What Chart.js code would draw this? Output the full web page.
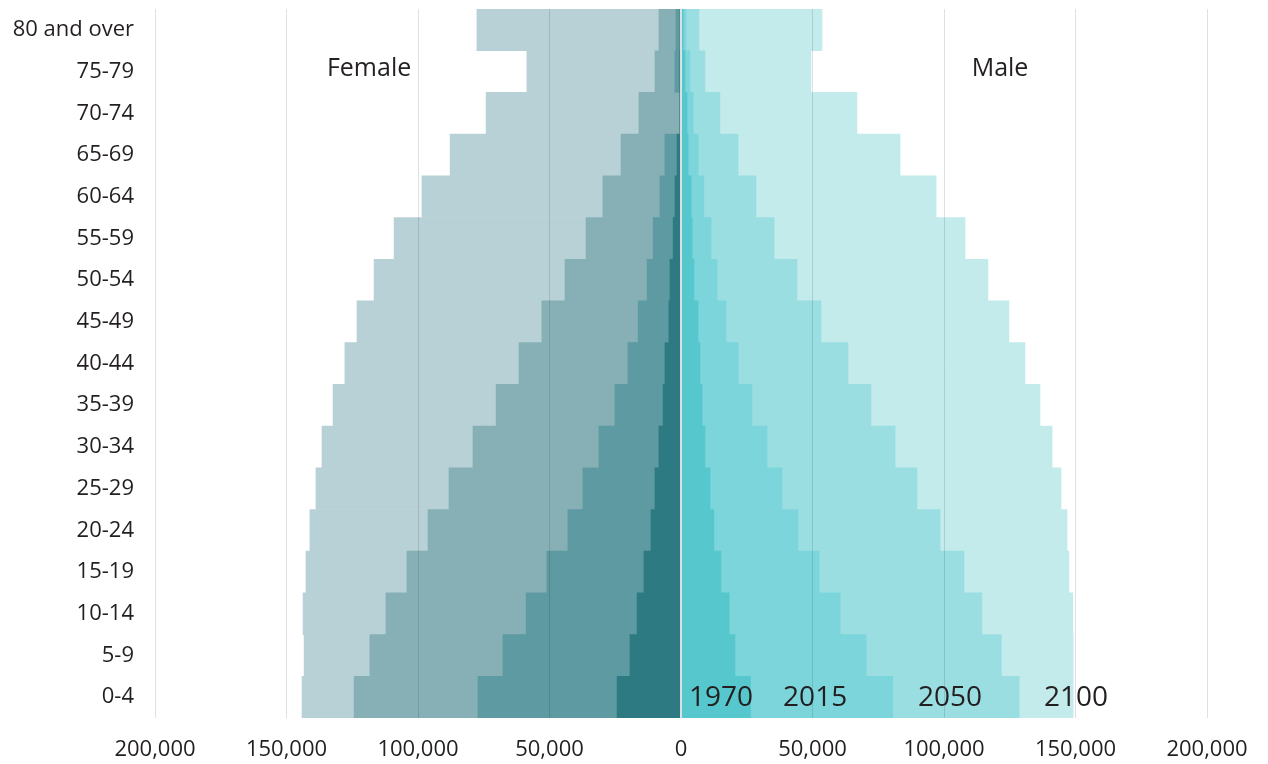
<!DOCTYPE html>
<html>
<head>
<meta charset="utf-8">
<script src="https://cdn.jsdelivr.net/npm/chart.js@4"></script>
<style>
  html, body { margin: 0; padding: 0; background: #fff; }
  #wrap { width: 1268px; height: 764px; }
</style>
</head>
<body>
<div id="wrap"><canvas id="pyramid"></canvas></div>
<script>
// age groups, top row first
const ageGroups = ['80 and over', '75-79', '70-74', '65-69', '60-64', '55-59', '50-54', '45-49',
	'40-44', '35-39', '30-34', '25-29', '20-24', '15-19', '10-14', '5-9', '0-4'];

const years = ['1970', '2015', '2050', '2100'];

// female population per year (drawn on the left)
const female1970 = [300, 500, 300, 1500, 2300, 3000, 4200, 4600, 6100, 6800, 8400, 9900, 11400, 14100, 16700, 19400, 24300];
const female2015 = [1900, 2300, 600, 6100, 8000, 10600, 12900, 16300, 20200, 25100, 31200, 37300, 43000, 51000, 58900, 67700, 77200];
const female2050 = [8400, 9900, 16000, 22800, 29700, 36100, 44100, 52900, 61600, 70300, 79100, 88200, 96200, 104200, 112200, 118300, 124300];
const female2100 = [77600, 58600, 74100, 87800, 98500, 109100, 116700, 123200, 127800, 132300, 136500, 138800, 141100, 142600, 143700, 143300, 144100];

// male population per year (drawn on the right)
const male1970 = [800, 1500, 2300, 2700, 3800, 4200, 4900, 6500, 7200, 8000, 9100, 11000, 12500, 15200, 18300, 20500, 26400];
const male2015 = [1900, 3400, 4600, 6500, 8700, 11400, 13700, 17100, 21700, 27000, 32700, 38400, 44500, 52500, 60500, 70400, 80500];
const male2050 = [6800, 9100, 14800, 21700, 28500, 35400, 44100, 53200, 63500, 72200, 81400, 89700, 98500, 107600, 114400, 121800, 128600];
const male2100 = [53600, 49400, 66900, 83300, 97000, 108000, 116700, 124700, 130800, 136500, 141100, 144500, 146800, 147500, 149000, 149100, 149100];

const sideLabels = ['Female', 'Male'];

const femaleColors = ['#2d7a82', '#5e9aa1', '#86b0b6', '#b8d1d6'];
const maleColors = ['#55c7cd', '#7bd5da', '#9adee2', '#c3ebec'];

const FONT = '"Open Sans", "Noto Sans", sans-serif';
const TEXT = '#231f20';

const femaleSets = [female1970, female2015, female2050, female2100];
const maleSets = [male1970, male2015, male2050, male2100];

// first dataset is painted last, so the 1970 bars sit on top
const datasets = [];
years.forEach((yr, i) => {
	datasets.push({
		label: 'Female ' + yr,
		data: femaleSets[i].map(v => -v),
		backgroundColor: femaleColors[i],
		categoryPercentage: 1,
		barPercentage: 1
	});
	datasets.push({
		label: 'Male ' + yr,
		data: maleSets[i],
		backgroundColor: maleColors[i],
		categoryPercentage: 1,
		barPercentage: 1
	});
});

// Female / Male headings and the year names in the bottom row
const labelPlugin = {
	id: 'pyramidLabels',
	afterDraw(chart) {
		const {ctx, scales: {x, y}} = chart;
		ctx.save();
		ctx.fillStyle = TEXT;
		ctx.textAlign = 'center';
		ctx.textBaseline = 'middle';
		ctx.font = '25px ' + FONT;
		const topY = y.getPixelForValue(1) - 3;
		ctx.fillText(sideLabels[0], x.getPixelForValue(-118600), topY);
		ctx.fillText(sideLabels[1], x.getPixelForValue(121300), topY);

		ctx.font = '28px ' + FONT;
		const yearX = [15200, 51000, 102300, 150200];
		const rowY = y.getPixelForValue(ageGroups.length - 1) + 1;
		years.forEach((yr, i) => ctx.fillText(yr, x.getPixelForValue(yearX[i]), rowY));
		ctx.restore();
	}
};

new Chart(document.getElementById('pyramid'), {
	type: 'bar',
	data: { labels: ageGroups, datasets: datasets },
	options: {
		indexAxis: 'y',
		responsive: true,
		maintainAspectRatio: false,
		animation: false,
		layout: { padding: { top: 9, right: 61, left: 0, bottom: 0 } },
		plugins: {
			legend: { display: false },
			tooltip: { enabled: false }
		},
		scales: {
			x: {
				stacked: false,
				min: -200000,
				max: 200000,
				border: { display: false },
				grid: {
					z: 1,
					drawTicks: false,
					color: c => c.tick && c.tick.value === 0 ? 'rgba(225,225,225,0.95)' : 'rgba(0,0,0,0.12)',
					lineWidth: c => c.tick && c.tick.value === 0 ? 2 : 1
				},
				ticks: {
					stepSize: 50000,
					padding: 19,
					color: TEXT,
					font: { family: FONT, size: 22 },
					callback: v => Math.abs(v).toLocaleString('en-US')
				},
				afterFit: s => { s.height = 46; s.paddingLeft = 0; s.paddingRight = 0; }
			},
			y: {
				stacked: true,
				border: { display: false },
				grid: { display: false, drawTicks: false },
				ticks: {
					padding: 21,
					color: TEXT,
					font: { family: FONT, size: 22 }
				},
				afterFit: s => { s.width = 155; s.paddingTop = 0; s.paddingBottom = 0; }
			}
		}
	},
	plugins: [labelPlugin]
});
</script>
</body>
</html>
